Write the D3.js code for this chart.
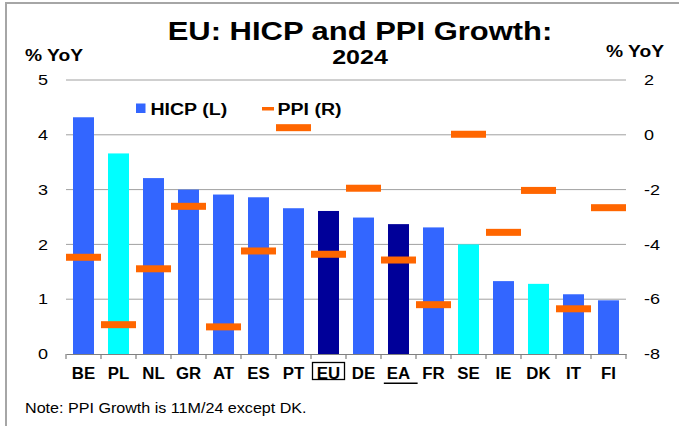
<!DOCTYPE html>
<html>
<head>
<meta charset="utf-8">
<script src="https://cdn.jsdelivr.net/npm/d3@7"></script>
<style>
  html, body { margin: 0; padding: 0; background: #ffffff; }
  svg { display: block; font-family: Arial, "Liberation Sans", sans-serif; }
</style>
</head>
<body>
<svg id="chart" width="679" height="426"></svg>
<script>
// ---- data ----
const categories = ["BE","PL","NL","GR","AT","ES","PT","EU","DE","EA","FR","SE","IE","DK","IT","FI"];
const hicp = [4.32, 3.66, 3.21, 3.00, 2.91, 2.86, 2.66, 2.61, 2.49, 2.37, 2.31, 2.00, 1.33, 1.28, 1.09, 0.98];
const ppi  = [-4.47, -6.93, -4.89, -2.61, -7.01, -4.24, 0.26, -4.36, -1.95, -4.57, -6.20, 0.02, -3.56, -2.03, -6.35, -2.66];
const barGroup = ["country","highlight","country","country","country","country","country","aggregate","country","aggregate","country","highlight","country","highlight","country","country"];
const leftTicks = [0, 1, 2, 3, 4, 5];
const rightTicks = [-8, -6, -4, -2, 0, 2];
const titleLines = ["EU: HICP and PPI Growth:", "2024"];
const axisTitle = "% YoY";
const legendLabels = ["HICP (L)", "PPI (R)"];
const noteText = "Note: PPI Growth is 11M/24 except DK.";
const boxedLabels = ["EU"];
const underlinedLabels = ["EA"];

// ---- layout ----
const colors = { country: "#3366FF", highlight: "#00FFFF", aggregate: "#000099", ppi: "#FF6600" };
const plot = { left: 66, right: 626, top: 80, bottom: 354 };
const STRETCH = 1.2;

const svg = d3.select("#chart");

// outer frame
svg.append("rect").attr("x", 6).attr("y", 3).attr("width", 720).attr("height", 480)
  .attr("fill", "none").attr("stroke", "#a6a6a6").attr("stroke-width", 2);

const x = d3.scaleBand().domain(categories).range([plot.left, plot.right]).padding(0);
const yL = d3.scaleLinear().domain([0, 5]).range([plot.bottom, plot.top]);
const yR = d3.scaleLinear().domain([-8, 2]).range([plot.bottom, plot.top]);

function stretch(sel, k) {
  sel.each(function() {
    const w = this.getComputedTextLength();
    d3.select(this).attr("textLength", w * k).attr("lengthAdjust", "spacingAndGlyphs");
  });
  return sel;
}

// gridlines
svg.append("g").selectAll("line").data(leftTicks.filter(d => d > 0)).join("line")
  .attr("x1", plot.left).attr("x2", plot.right)
  .attr("y1", d => yL(d)).attr("y2", d => yL(d))
  .attr("stroke", "#a0a0a0").attr("stroke-width", 1);

// bars
const bw = x.bandwidth() * 0.6;
svg.append("g").selectAll("rect").data(categories).join("rect")
  .attr("x", d => x(d) + (x.bandwidth() - bw) / 2)
  .attr("width", bw)
  .attr("y", (d, i) => yL(hicp[i]))
  .attr("height", (d, i) => yL(0) - yL(hicp[i]))
  .attr("fill", (d, i) => colors[barGroup[i]]);

// bottom axis
const xAxis = d3.axisBottom(x).tickSize(0).tickFormat("");
const gx = svg.append("g").attr("transform", `translate(0,${plot.bottom})`).call(xAxis);
gx.select(".domain").attr("stroke", "#808080").attr("stroke-width", 1.2);
const bounds = categories.map(c => x(c)).concat([plot.right]);
gx.selectAll("line.bt").data(bounds).join("line").attr("class", "bt")
  .attr("x1", d => d).attr("x2", d => d).attr("y1", 0).attr("y2", 5)
  .attr("stroke", "#808080").attr("stroke-width", 1.2);

// ppi markers
svg.append("g").selectAll("rect").data(categories).join("rect")
  .attr("x", d => x(d))
  .attr("width", x.bandwidth())
  .attr("y", (d, i) => yR(ppi[i]) - 3.5)
  .attr("height", 7)
  .attr("fill", colors.ppi);

// left tick labels
stretch(svg.append("g").selectAll("text").data(leftTicks).join("text")
  .attr("x", 48).attr("y", d => yL(d)).attr("dy", "0.35em")
  .attr("text-anchor", "end").attr("font-size", 15).attr("fill", "#000")
  .text(d => String(d)), STRETCH);

// right tick labels
stretch(svg.append("g").selectAll("text").data(rightTicks).join("text")
  .attr("x", 644).attr("y", d => yR(d)).attr("dy", "0.35em")
  .attr("text-anchor", "start").attr("font-size", 15).attr("fill", "#000")
  .text(d => String(d)), STRETCH);

// x labels
const xl = svg.append("g").selectAll("text").data(categories).join("text")
  .attr("x", d => x(d) + x.bandwidth() / 2).attr("y", 379)
  .attr("text-anchor", "middle").attr("font-size", 16).attr("font-weight", "bold")
  .attr("fill", "#000").text(d => d);
stretch(xl, 1.05);

xl.filter(d => boxedLabels.includes(d)).each(function(d) {
  const cx = x(d) + x.bandwidth() / 2;
  svg.append("rect").attr("x", cx - 16).attr("y", 362.5).attr("width", 32).attr("height", 17)
    .attr("fill", "none").attr("stroke", "#000").attr("stroke-width", 1.3);
});
xl.filter(d => underlinedLabels.includes(d)).each(function(d) {
  const b = this.getBBox();
  svg.append("line").attr("x1", b.x - 3).attr("x2", b.x + b.width + 7)
    .attr("y1", 383.3).attr("y2", 383.3).attr("stroke", "#000").attr("stroke-width", 1.5);
});

// titles
stretch(svg.append("text").attr("x", 360).attr("y", 39.5).attr("text-anchor", "middle")
  .attr("font-size", 26).attr("font-weight", "bold").text(titleLines[0]), 1.19);
stretch(svg.append("text").attr("x", 360).attr("y", 63.5).attr("text-anchor", "middle")
  .attr("font-size", 20).attr("font-weight", "bold").text(titleLines[1]), 1.25);

// axis titles
stretch(svg.append("text").attr("x", 25).attr("y", 61).attr("font-size", 16)
  .attr("font-weight", "bold").text(axisTitle), STRETCH);
stretch(svg.append("text").attr("x", 606).attr("y", 56.5).attr("font-size", 16)
  .attr("font-weight", "bold").text(axisTitle), STRETCH);

// legend
svg.append("rect").attr("x", 136).attr("y", 103.5).attr("width", 9.5).attr("height", 9.5).attr("fill", colors.country);
stretch(svg.append("text").attr("x", 150.5).attr("y", 115).attr("font-size", 16)
  .attr("font-weight", "bold").text(legendLabels[0]), 1.22);
svg.append("rect").attr("x", 262).attr("y", 107).attr("width", 12).attr("height", 3.5).attr("fill", colors.ppi);
stretch(svg.append("text").attr("x", 277.5).attr("y", 115).attr("font-size", 16)
  .attr("font-weight", "bold").text(legendLabels[1]), 1.22);

// note
stretch(svg.append("text").attr("x", 25).attr("y", 412.5).attr("font-size", 14)
  .text(noteText), 1.15);
</script>
</body>
</html>
